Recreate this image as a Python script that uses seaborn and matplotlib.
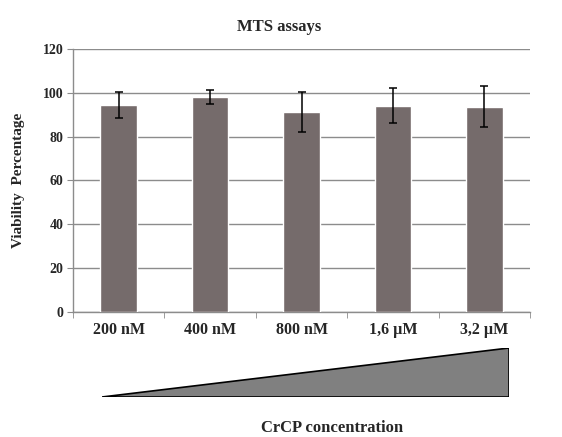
import matplotlib
matplotlib.use("Agg")
import matplotlib.pyplot as plt
import seaborn as sns
import pandas as pd
from matplotlib.ticker import FixedLocator

concentrations = ["200 nM", "400 nM", "800 nM", "1,6 µM", "3,2 µM"]
viability = [94.5, 98.2, 91.2, 94.0, 93.7]
viability_sd = [6.0, 3.2, 9.2, 8.0, 9.5]

df = pd.DataFrame({"conc": concentrations, "viability": viability})

sns.set_style("white")
plt.rcParams["font.family"] = ["Liberation Serif", "DejaVu Serif"]
plt.rcParams["font.weight"] = "bold"

fig = plt.figure(figsize=(5.62, 4.37), dpi=100)
ax = fig.add_axes([0.130, 0.286, 0.813, 0.602])

sns.barplot(data=df, x="conc", y="viability", color="#756b6b", width=0.4,
            saturation=1, errorbar=None, ax=ax, zorder=3)
ax.errorbar(range(len(concentrations)), viability, yerr=viability_sd,
            fmt="none", ecolor="black", elinewidth=1.1, capsize=3, capthick=1.1, zorder=4)

ax.set_ylim(0, 120)
ax.set_xlim(-0.5, len(concentrations) - 0.5)
ax.set_yticks(range(0, 121, 20))
ax.yaxis.grid(True, color="#8c8c8c", linewidth=1.0, zorder=0)
ax.set_axisbelow(True)

for side in ["top", "right"]:
    ax.spines[side].set_visible(False)
for side in ["left", "bottom"]:
    ax.spines[side].set_color("#8c8c8c")
    ax.spines[side].set_linewidth(1.0)

ax.tick_params(axis="y", which="major", direction="out", length=4, color="#8c8c8c",
               labelsize=10, pad=3, left=True)
ax.tick_params(axis="x", which="major", length=0, labelsize=11.5, pad=7)
ax.xaxis.set_minor_locator(FixedLocator([i + 0.5 for i in range(-1, len(concentrations))]))
ax.tick_params(axis="x", which="minor", direction="out", length=4, color="#8c8c8c", bottom=True)
for lbl in ax.get_xticklabels() + ax.get_yticklabels():
    lbl.set_fontweight("bold")

ax.set_xlabel("")
ax.set_ylabel("Viability  Percentage", fontsize=11, fontweight="bold", labelpad=13)

fig.text(279 / 562, 1 - 27 / 437, "MTS assays", ha="center", va="center",
         fontsize=12, fontweight="bold")

# gradient triangle under the axis
tri = fig.add_axes([102 / 562, 1 - 397 / 437, (509 - 102) / 562, (397 - 348) / 437])
tri.fill([0, 1, 1], [0, 0, 1], facecolor="#808080", edgecolor="black", linewidth=1.2)
tri.set_xlim(0, 1)
tri.set_ylim(0, 1)
tri.axis("off")

fig.text(332 / 562, 1 - 428 / 437, "CrCP concentration", ha="center", va="center",
         fontsize=12, fontweight="bold")

fig.savefig("out.png", dpi=100)
